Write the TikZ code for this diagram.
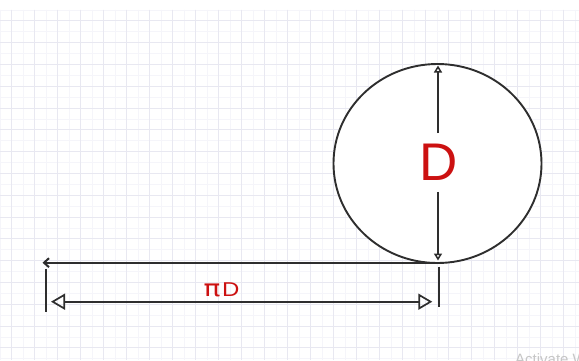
\documentclass[tikz,border=0pt]{standalone}
\usepackage{fontspec}
\usepackage{graphicx}
\setmainfont{Liberation Sans}
\newfontfamily\dvfont{DejaVu Sans}
\usetikzlibrary{arrows.meta,shapes.geometric}
\definecolor{gridmajor}{HTML}{E8E8F1}
\definecolor{gridminor}{HTML}{F5F5FA}
\definecolor{ink}{HTML}{2E2E2E}
\definecolor{dred}{HTML}{CC1111}
\begin{document}
\begin{tikzpicture}[x=1pt,y=-1pt,
  minorline/.style={gridminor,line width=0.6pt},
  majorline/.style={gridmajor,line width=0.8pt},
  inkline/.style={ink,line width=1.7pt},
  bigtri/.style={inkline,{Triangle[open,length=14pt,width=16pt]}-{Triangle[open,length=14pt,width=16pt]}},
  redlabel/.style={text=dred,inner sep=0pt,text depth=0pt}]
\useasboundingbox (0,0) rectangle (579,360);
\clip (0,0) rectangle (579,360);
\fill[white] (0,0) rectangle (579,360);
% grid
\foreach \i in {0,...,51} {
  \draw[minorline] ({0.2+11.5*\i},9.8) -- ({0.2+11.5*\i},360);
}
\foreach \i in {0,...,32} {
  \draw[minorline] (0,{9.8+10.9*\i}) -- (579,{9.8+10.9*\i});
}
\foreach \i in {0,...,25} {
  \draw[majorline] ({11.7+23*\i},9.8) -- ({11.7+23*\i},360);
}
\foreach \i in {0,...,16} {
  \draw[majorline] (0,{20.7+21.8*\i}) -- (579,{20.7+21.8*\i});
}
% circle
\node[ellipse,draw=ink,fill=white,line width=1.9pt,minimum width=208pt,minimum height=199pt,inner sep=0pt] (circ) at (437.5,163.5) {};
% D label
\node[redlabel,inner ysep=11pt,font=\fontsize{53}{60}\selectfont] (D) at (439,162.5) {D};
\coordinate (vtop) at (438,65.5);
\coordinate (vbot) at (438,260.5);
\draw[inkline,line width=1.5pt,-{Triangle[open,length=7pt,width=8pt]}] (D.north -| vtop) -- (vtop);
\draw[inkline,line width=1.5pt,-{Triangle[open,length=7pt,width=8pt]}] (D.south -| vbot) -- (vbot);
% horizontal line with barb
\coordinate (hR) at (443,262.7);
\coordinate (hL) at (42.5,262.7);
\draw[inkline,line width=2pt,-{Straight Barb[length=5pt,width=9pt]}] (hR) -- (hL);
% ticks
\coordinate (tRt) at (439.3,266.7);
\coordinate (tRb) at (439.3,307.3);
\coordinate (tLt) at (45.7,269);
\coordinate (tLb) at (45.7,312.3);
\draw[inkline] (tRt) -- (tRb);
\draw[inkline] (tLt) -- (tLb);
% piD arrow
\coordinate (aL) at (51,301.7);
\coordinate (aR) at (432.3,301.7);
\draw[bigtri] (aL) -- (aR);
\node[redlabel,anchor=base,font=\fontsize{20}{22}\selectfont] (piD) at (221.5,296.7) {\scalebox{1.4}[1.15]{\dvfont π}\kern1.5pt\scalebox{1.2}[1]{D}};
% watermark
\node[anchor=north west,inner sep=0pt,text=gray!45,font=\fontsize{15}{18}\selectfont] (wm) at (515,353.5) {Activate W};
\end{tikzpicture}
\end{document}
